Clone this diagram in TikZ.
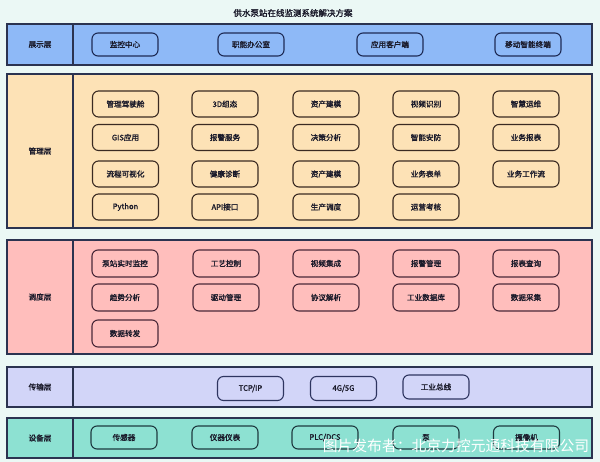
\documentclass[tikz,border=0pt]{standalone}
\usepackage{fontspec}
\usepackage{pdfrender}
\newfontfamily\cjk[FakeBold=1.6]{Noto Sans CJK SC}
\newfontfamily\cjkthin{Noto Sans CJK SC}
\definecolor{bgc}{HTML}{EBF8F5}
\definecolor{frame}{HTML}{2B3350}
\definecolor{fa}{HTML}{8EB9F7}
\definecolor{fb}{HTML}{FDE2B6}
\definecolor{fc}{HTML}{FFBEBC}
\definecolor{fd}{HTML}{D2D5F8}
\definecolor{fe}{HTML}{8DE1D2}
\definecolor{ba}{HTML}{1E2B55}
\definecolor{bb}{HTML}{3A2A22}
\definecolor{bc}{HTML}{4A2838}
\definecolor{bd}{HTML}{2E3560}
\definecolor{be}{HTML}{1E3A40}
\definecolor{txt}{HTML}{1A1A2A}
\definecolor{wmline}{HTML}{4A4A4A}
\begin{document}
\begin{tikzpicture}[x=1pt,y=-1pt,
  layer/.style={draw=frame, line width=1.1pt},
  lbl/.style={font=\cjk\fontsize{7.6}{8}\selectfont, text=txt, inner sep=0pt},
  box/.style={line width=1.1pt, rounded corners=6pt, minimum width=66pt,
    minimum height=26pt, inner sep=0pt, font=\cjk\fontsize{7.6}{8}\selectfont, text=txt},
  boxa/.style={box, draw=ba, fill=fa, minimum height=23pt},
  boxb/.style={box, draw=bb, fill=fb},
  boxc/.style={box, draw=bc, fill=fc, minimum height=27pt},
  boxd/.style={box, draw=bd, fill=fd, minimum height=24pt},
  boxe/.style={box, draw=be, fill=fe, minimum height=23pt},
  wm/.style={font=\cjkthin\fontsize{14.8}{15}\selectfont, inner sep=0pt, text=white}
]
\fill[bgc] (0,0) rectangle (600,462);
\useasboundingbox (0,0) rectangle (600,462);

\node[font=\cjk\fontsize{8.5}{9}\selectfont, text=txt] (title) at (293,13) {供水泵站在线监测系统解决方案};

% layer frames
\draw[layer, fill=fa] (7,24) rectangle (592,65);
\draw[layer] (73,24) -- (73,65);
\draw[layer, fill=fb] (7,74) rectangle (592,228);
\draw[layer] (73,74) -- (73,228);
\draw[layer, fill=fc] (7,240) rectangle (592,354);
\draw[layer] (73,240) -- (73,354);
\draw[layer, fill=fd] (7,367) rectangle (592,407);
\draw[layer] (73,367) -- (73,407);
\draw[layer, fill=fe] (7,418) rectangle (592,458);
\draw[layer] (73,418) -- (73,458);

\node[lbl] (la) at (40,44.5) {展示层};
\node[lbl] (lb) at (40,151) {管理层};
\node[lbl] (lc) at (40,297) {调度层};
\node[lbl] (ld) at (40,387) {传输层};
\node[lbl] (le) at (40,438) {设备层};

% display
\node[boxa] (a1) at (125,44.5) {监控中心};
\node[boxa] (a2) at (251,44.5) {职能办公室};
\node[boxa] (a3) at (390,44.5) {应用客户端};
\node[boxa] (a4) at (528,44.5) {移动智能终端};

% management
\node[boxb] (b11) at (125.5,104) {管理驾驶舱};
\node[boxb] (b12) at (225,104) {3D组态};
\node[boxb] (b13) at (326,104) {资产建模};
\node[boxb] (b14) at (426,104) {视频识别};
\node[boxb] (b15) at (526,104) {智慧运维};
\node[boxb] (b21) at (125.5,137.5) {GIS应用};
\node[boxb] (b22) at (225,137.5) {报警服务};
\node[boxb] (b23) at (326,137.5) {决策分析};
\node[boxb] (b24) at (426,137.5) {智能安防};
\node[boxb] (b25) at (526,137.5) {业务报表};
\node[boxb] (b31) at (125.5,174) {流程可视化};
\node[boxb] (b32) at (225,174) {健康诊断};
\node[boxb] (b33) at (326,174) {资产建模};
\node[boxb] (b34) at (426,174) {业务表单};
\node[boxb] (b35) at (526,174) {业务工作流};
\node[boxb] (b41) at (125.5,207) {Python};
\node[boxb] (b42) at (225,207) {API接口};
\node[boxb] (b43) at (326,207) {生产调度};
\node[boxb] (b44) at (426,207) {运营考核};

% dispatch
\node[boxc] (c11) at (125,263.5) {泵站实时监控};
\node[boxc] (c12) at (226,263.5) {工艺控制};
\node[boxc] (c13) at (326,263.5) {视频集成};
\node[boxc] (c14) at (426,263.5) {报警管理};
\node[boxc] (c15) at (526,263.5) {报表查询};
\node[boxc] (c21) at (125,297.5) {趋势分析};
\node[boxc] (c22) at (226,297.5) {驱动管理};
\node[boxc] (c23) at (326,297.5) {协议解析};
\node[boxc] (c24) at (426,297.5) {工业数据库};
\node[boxc] (c25) at (526,297.5) {数据采集};
\node[boxc] (c31) at (125,333.5) {数据转发};

% transport
\node[boxd] (d1) at (250.5,388.5) {TCP/IP};
\node[boxd] (d2) at (343.5,388.5) {4G/5G};
\node[boxd] (d3) at (436,387) {工业总线};

% device
\node[boxe] (e1) at (124,437.5) {传感器};
\node[boxe] (e2) at (225,437.5) {仪器仪表};
\node[boxe] (e3) at (325,437.5) {PLC/DCS};
\node[boxe] (e4) at (426,437.5) {泵};
\node[boxe] (e5) at (526.5,437.5) {摄像机};

% watermark
\node[wm] (wmk) at (456,446) {\textpdfrender{TextRenderingMode=FillStroke, LineWidth=0.7, StrokeColor=wmline}{图片发布者：北京力控元通科技有限公司}};
\end{tikzpicture}
\end{document}
